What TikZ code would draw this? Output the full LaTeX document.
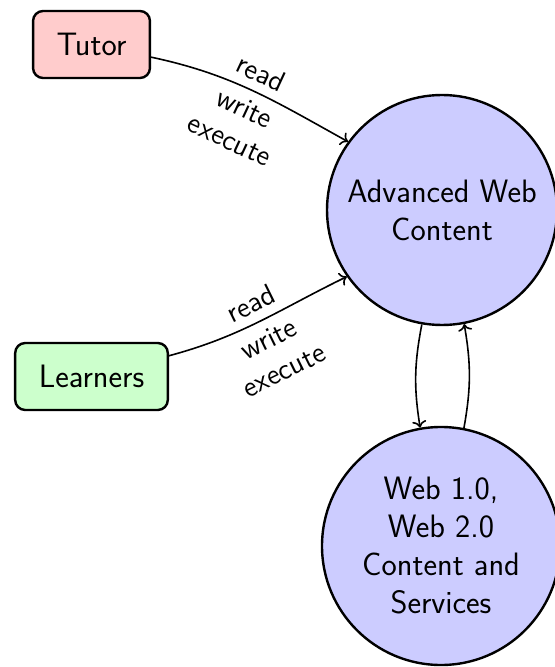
\documentclass[tikz,border=0pt]{standalone}
\usepackage{fontspec}
\usetikzlibrary{arrows.meta}
\begin{document}
\begin{tikzpicture}[x=0.5pt,y=-0.5pt,
  font=\sffamily\fontsize{16.2}{19}\selectfont,
  actor/.style={draw, line width=1.2pt, rounded corners=5pt, inner xsep=11.8pt, minimum height=33.5pt},
  content/.style={draw, circle, line width=1.2pt, fill=blue!20, align=center, inner sep=0pt},
  edge/.style={->, line width=0.8pt},
  lbl/.style={font=\sffamily\fontsize{14.5}{17.5}\selectfont, sloped, align=center, inner sep=4.5pt}]
\useasboundingbox (0,0) rectangle (554,667);
% participants
\node[actor, fill=red!20] (tutor) at (91.5,44.5) {Tutor};
\node[actor, fill=green!20] (learners) at (91.5,376.5) {Learners};
% content circles
\node[content, minimum size=115pt] (adv) at (442,210) {Advanced Web\\Content};
\node[content, minimum size=119pt] (web) at (441,546) {Web 1.0,\\Web 2.0\\Content and\\Services};
% access relations
\draw[edge] (tutor) to[out=-12, in=151]
  node[lbl, above] {read}
  node[lbl, below] {write\\execute} (adv.144);
\draw[edge] (learners) to[out=15, in=206]
  node[lbl, above] {read}
  node[lbl, below] {write\\execute} (adv.215);
% exchange between content layers
\draw[edge] (adv.-100) to[bend right=10] (web.100);
\draw[edge] (web.79) to[bend right=10] (adv.-79);
\end{tikzpicture}
\end{document}
